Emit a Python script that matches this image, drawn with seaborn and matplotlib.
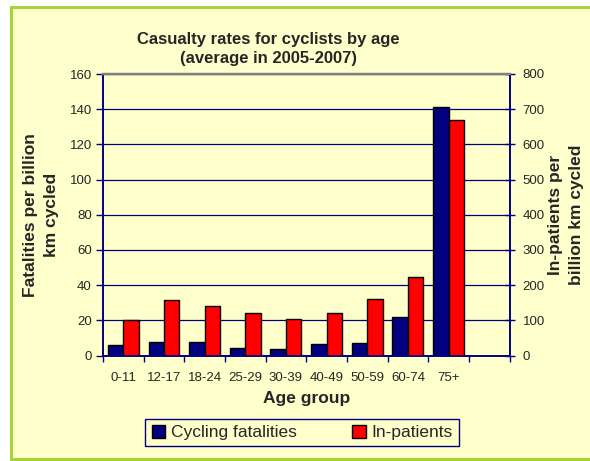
import matplotlib
matplotlib.use("Agg")
import matplotlib.pyplot as plt
from matplotlib.patches import Patch, Rectangle
import seaborn as sns
import pandas as pd
import numpy as np

age_groups = ["0-11", "12-17", "18-24", "25-29", "30-39", "40-49", "50-59", "60-74", "75+"]
fatalities = [6.0, 7.5, 7.5, 4.5, 3.8, 6.4, 7.3, 21.8, 141.5]
inpatients = [100, 157, 141, 120, 105, 120, 160, 224, 668]
series_names = ["Cycling fatalities", "In-patients"]
left_ticks = [0, 20, 40, 60, 80, 100, 120, 140, 160]
right_ticks = [0, 100, 200, 300, 400, 500, 600, 700, 800]

BG = "#FFFFCC"
NAVY = "#000080"
RED = "#FF0000"
FONT = ["Liberation Sans", "DejaVu Sans"]

sns.set_theme(style="white")
plt.rcParams["font.family"] = FONT

n = len(age_groups)
df = pd.DataFrame({
    "age": age_groups * 2,
    "series": [series_names[0]] * n + [series_names[1]] * n,
    "fat": list(fatalities) + [np.nan] * n,
    "inp": [np.nan] * n + list(inpatients),
})
palette = {series_names[0]: NAVY, series_names[1]: RED}

fig = plt.figure(figsize=(5.9, 4.61), dpi=100)
fig.patch.set_facecolor("white")
fig.add_artist(Rectangle((16.5 / 590, 0.0), 1.0, 2.0 / 461, transform=fig.transFigure,
                         facecolor="black", edgecolor="none", zorder=0))
fig.add_artist(Rectangle((10.5 / 590, 2.5 / 461), 1.0, 1 - 10 / 461, transform=fig.transFigure,
                         facecolor=BG, edgecolor="#A6D43A", linewidth=2.2, zorder=0))

ax = fig.add_axes([103 / 590, 1 - 355.5 / 461, 406.5 / 590, 281.5 / 461])
ax.set_facecolor(BG)
ax.patch.set_alpha(0)

common = dict(x="age", hue="series", hue_order=series_names, order=age_groups,
              palette=palette, width=0.76, saturation=1, edgecolor="black",
              linewidth=1.0, legend=False, errorbar=None)
sns.barplot(data=df, y="fat", ax=ax, **common)
ax2 = ax.twinx()
sns.barplot(data=df, y="inp", ax=ax2, **common)

for a in (ax, ax2):
    a.set_xlim(-0.5, n + 0.5)
ax.set_ylim(0, 160)
ax2.set_ylim(0, 800)

ax.set_axisbelow(True)
ax.set_yticks(left_ticks)
ax.set_yticklabels([str(t) for t in left_ticks], fontsize=9.5)
ax2.set_yticks(right_ticks)
ax2.set_yticklabels([str(t) for t in right_ticks], fontsize=9.5)
ax.yaxis.grid(True, color=NAVY, linewidth=0.9)
ax.xaxis.grid(False)
ax2.grid(False)

ax.set_xticks(range(n))
ax.set_xticklabels(age_groups, fontsize=9.5)
ax.set_xticks([i - 0.5 for i in range(n + 2)], minor=True)
ax.tick_params(axis="x", which="major", length=0, pad=12)
ax.tick_params(axis="x", which="minor", length=4, width=1, color=NAVY, direction="out", bottom=True)
ax.tick_params(axis="y", length=5, width=1, color=NAVY, direction="out", pad=3, left=True)
ax2.tick_params(axis="y", length=7, width=1, color=NAVY, direction="inout", pad=6, right=True)

for a in (ax, ax2):
    a.spines["left"].set_color(NAVY)
    a.spines["right"].set_color(NAVY)
    a.spines["bottom"].set_color(NAVY)
    a.spines["top"].set_color("#808080")
    for s in a.spines.values():
        s.set_linewidth(1.2)
    a.spines["top"].set_linewidth(1.6)

ax.set_xlabel("Age group", fontsize=12.5, fontweight="bold", labelpad=5)
ax.set_ylabel("Fatalities per billion\nkm cycled", fontsize=12.5, fontweight="bold",
              labelpad=8, linespacing=1.5)
ax2.set_ylabel("In-patients per\nbillion km cycled", fontsize=12.5, fontweight="bold",
               rotation=90, labelpad=2, linespacing=1.5)
ax2.yaxis.set_label_position("right")

fig.text(268 / 590, 1 - 49 / 461, "Casualty rates for cyclists by age\n(average in 2005-2007)",
         ha="center", va="center", fontsize=12, fontweight="bold", linespacing=1.35)

handles = [Patch(facecolor=NAVY, edgecolor="black", linewidth=1.0),
           Patch(facecolor=RED, edgecolor="black", linewidth=1.0)]
leg = fig.legend(handles, series_names, loc="center", bbox_to_anchor=(302 / 590, 1 - 432.5 / 461),
                 ncol=2, fontsize=12.5, frameon=True, fancybox=False, framealpha=1,
                 facecolor=BG, edgecolor=NAVY, handlelength=0.8, handleheight=0.8,
                 handletextpad=0.3, columnspacing=3.2, borderpad=0.35)
leg.get_frame().set_linewidth(1.0)

fig.savefig("out.png", dpi=100, facecolor=fig.get_facecolor())
